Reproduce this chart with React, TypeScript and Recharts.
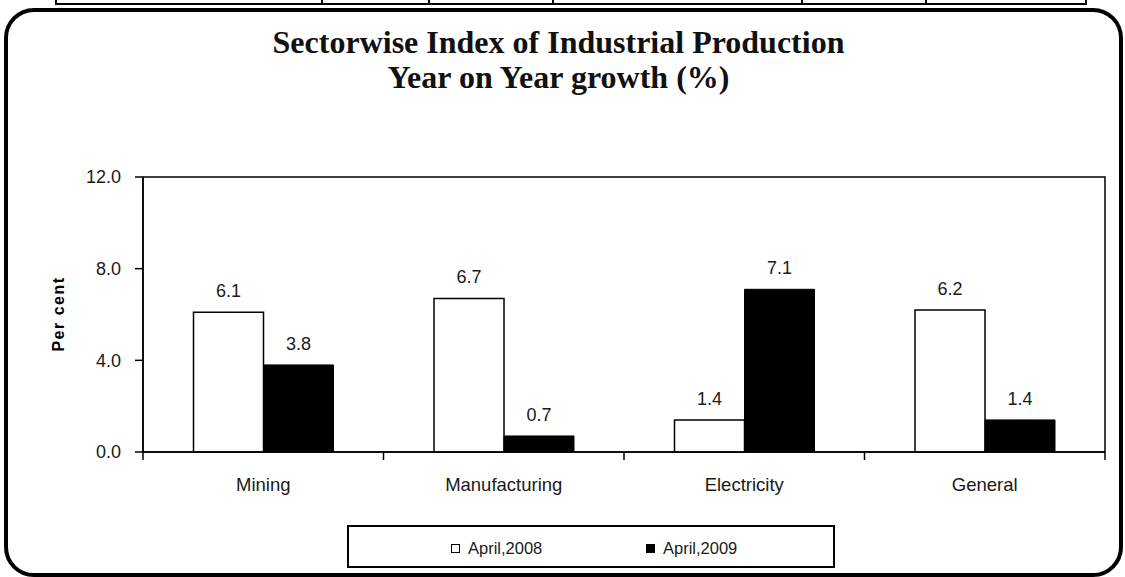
import React from 'react';
import { ComposedChart, Bar, XAxis, YAxis, LabelList, ReferenceArea } from 'recharts';

// chart data
const sectors = ['Mining', 'Manufacturing', 'Electricity', 'General'];
const april2008 = [6.1, 6.7, 1.4, 6.2];
const april2009 = [3.8, 0.7, 7.1, 1.4];
const yTicks = [0, 4, 8, 12];
const seriesNames = ['April,2008', 'April,2009'];

const data = sectors.map((s, i) => ({ sector: s, a2008: april2008[i], a2009: april2009[i] }));

const FONT = '"Liberation Sans", Arial, sans-serif';
const TEXT = '#1a1a1a';

const SectorTick = (props: any) => {
    const { x, y, payload, index } = props;
    const half = payload?.offset ?? 120;
    const last = index === sectors.length - 1;
    return (
        <g>
            <line x1={x - half} y1={y - 26} x2={x - half} y2={y - 18} stroke="#000" strokeWidth={1.5} />
            {last && <line x1={x + half} y1={y - 26} x2={x + half} y2={y - 18} stroke="#000" strokeWidth={1.5} />}
            <text x={x} y={y} dy="0.71em" textAnchor="middle" fontSize={18.5} fill={TEXT} fontFamily={FONT}>
                {payload.value}
            </text>
        </g>
    );
};

const App: React.FC = () => {
    const tableCols = [55, 321, 428, 552, 801, 925, 1085];
    return (
        <div style={{ position: 'absolute', left: 0, top: 0, width: 1125, height: 577, overflow: 'hidden', background: '#fff' }}>
            {/* bit of the table above */}
            <div style={{ position: 'absolute', left: 55, top: 3, width: 1032, height: 2, background: '#000' }} />
            {tableCols.map((c) => (
                <div key={c} style={{ position: 'absolute', left: c, top: 0, width: 2, height: 5, background: '#000' }} />
            ))}
            {/* rounded frame */}
            <div style={{
                position: 'absolute', left: 4, top: 8, width: 1119, height: 569, boxSizing: 'border-box',
                border: '4px solid #000', borderRadius: 30,
            }} />
            <div style={{
                position: 'absolute', left: 0, top: 25, width: 1117, textAlign: 'center',
                fontFamily: '"Liberation Serif", "Times New Roman", serif', fontWeight: 'bold', fontSize: 32, lineHeight: '35px', color: '#111',
            }}>
                <div>Sectorwise Index of Industrial Production</div>
                <div>Year on Year growth (%)</div>
            </div>
            <div style={{
                position: 'absolute', left: 59, top: 314, transform: 'translate(-50%, -50%) rotate(-90deg)',
                fontFamily: FONT, fontWeight: 'bold', fontSize: 16, letterSpacing: 1.5, whiteSpace: 'nowrap', color: '#000',
            }}>
                Per cent
            </div>
            <div style={{ position: 'absolute', left: 0, top: 0 }}>
                <ComposedChart width={1125} height={577} data={data}
                    margin={{ top: 177, right: 20, bottom: 95, left: 0 }}
                    barCategoryGap="21%" barGap={0}>
                    <ReferenceArea y1={0} y2={12} fill="none" stroke="#000" strokeWidth={1.5} ifOverflow="extendDomain" />
                    <XAxis dataKey="sector" tick={<SectorTick />} tickLine={false} tickSize={0} tickMargin={26}
                        axisLine={{ stroke: '#000', strokeWidth: 1.5 }} height={30} interval={0} />
                    <YAxis domain={[0, 12]} ticks={yTicks} width={143} tickSize={8} tickMargin={14}
                        tickFormatter={(v: number) => v.toFixed(1)}
                        tick={{ fontSize: 18, fill: TEXT, fontFamily: FONT }}
                        tickLine={{ stroke: '#000', strokeWidth: 1.5 }}
                        axisLine={{ stroke: '#000', strokeWidth: 1.5 }} />
                    <Bar dataKey="a2008" name={seriesNames[0]} fill="#fff" stroke="#000" strokeWidth={1.5} isAnimationActive={false}>
                        <LabelList dataKey="a2008" position="top" offset={15} fontSize={18} fill={TEXT} fontFamily={FONT}
                            formatter={(v: any) => Number(v).toFixed(1)} />
                    </Bar>
                    <Bar dataKey="a2009" name={seriesNames[1]} fill="#000" stroke="#000" strokeWidth={1} isAnimationActive={false}>
                        <LabelList dataKey="a2009" position="top" offset={15} fontSize={18} fill={TEXT} fontFamily={FONT}
                            formatter={(v: any) => Number(v).toFixed(1)} />
                    </Bar>
                </ComposedChart>
            </div>
            {/* legend */}
            <div style={{
                position: 'absolute', left: 347, top: 525, width: 488, height: 43, border: '2px solid #000',
                boxSizing: 'border-box', background: '#fff', fontFamily: FONT, fontSize: 16.5, color: TEXT,
            }}>
                <div style={{ position: 'absolute', left: 102, top: 17, width: 9, height: 9, border: '1.5px solid #000', boxSizing: 'border-box', background: '#fff' }} />
                <div style={{ position: 'absolute', left: 119, top: 12, lineHeight: '18px' }}>{seriesNames[0]}</div>
                <div style={{ position: 'absolute', left: 297, top: 17, width: 9, height: 9, background: '#000' }} />
                <div style={{ position: 'absolute', left: 314, top: 12, lineHeight: '18px' }}>{seriesNames[1]}</div>
            </div>
        </div>
    );
};

export default App;
